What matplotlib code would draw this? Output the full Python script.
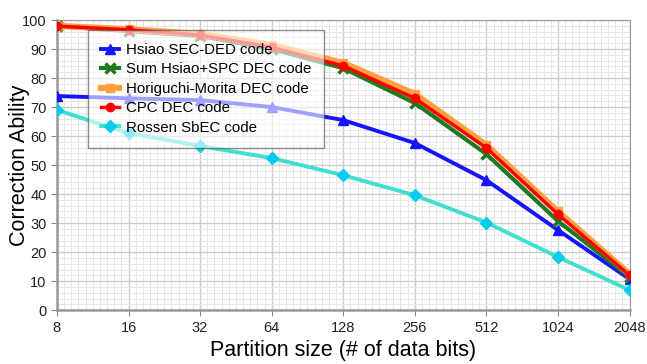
import matplotlib
matplotlib.use("Agg")
import matplotlib.pyplot as plt
from matplotlib.ticker import MultipleLocator
import numpy as np

plt.rcParams['font.family'] = ['Liberation Sans', 'DejaVu Sans']

sizes = ["8", "16", "32", "64", "128", "256", "512", "1024", "2048"]
hsiao = [73.8, 73.0, 72.4, 70.0, 65.5, 57.6, 44.8, 27.6, 10.7]
sum_spc = [97.9, 96.2, 94.5, 90.0, 83.4, 71.4, 53.8, 30.7, 11.5]
horiguchi = [98.0, 96.8, 95.2, 91.4, 85.2, 74.5, 56.9, 34.0, 12.4]
cpc = [97.9, 96.6, 94.8, 90.6, 84.2, 73.0, 55.9, 33.0, 12.0]
rossen = [69.0, 61.0, 56.6, 52.4, 46.5, 39.6, 30.2, 18.3, 6.9]

x = np.arange(len(sizes))

fig = plt.figure(figsize=(6.47, 3.64), dpi=100)
ax = fig.add_axes([0.088, 0.148, 0.885, 0.797])

ax.plot(x, hsiao, color="#1414ff", lw=2.8, marker="^", ms=7,
        label="Hsiao SEC-DED code", zorder=3)
ax.plot(x, sum_spc, color="#1e7a1e", lw=3, marker="x", ms=7, mew=2.5,
        label="Sum Hsiao+SPC DEC code", zorder=4)
ax.plot(x, horiguchi, color="#ffa040", lw=4.5, marker="s", ms=6,
        label="Horiguchi-Morita DEC code", zorder=5)
ax.plot(x, cpc, color="#ff0000", lw=2.5, marker="o", ms=6,
        label="CPC DEC code", zorder=6)
ax.plot(x, rossen, color="#40e0d0", lw=2.8, marker="D", ms=6, mfc="#00ccee", mec="#00ccee",
        label="Rossen SbEC code", zorder=3)

ax.set_xlim(0, len(sizes) - 1)
ax.set_ylim(0, 100)
ax.set_xticks(x)
ax.set_xticklabels(sizes)
ax.xaxis.set_minor_locator(MultipleLocator(0.1))
ax.yaxis.set_major_locator(MultipleLocator(10))
ax.yaxis.set_minor_locator(MultipleLocator(2))
ax.grid(which="major", color="#cccccc", lw=1.0)
ax.grid(which="minor", color="#e6e6e6", lw=0.7)
ax.set_axisbelow(True)
ax.tick_params(which="major", labelsize=10.5, length=4, color="#888888", labelcolor="#222222")
ax.tick_params(which="minor", length=0)
for s in ax.spines.values():
    s.set_color("#999999")
ax.spines["left"].set_linewidth(1.8)
ax.spines["bottom"].set_linewidth(1.8)

ax.set_xlabel("Partition size (# of data bits)", fontsize=15.5)
fig.text(0.03, 0.5465, "Correction Ability", fontsize=15.5, rotation=90,
         ha="center", va="center")

leg = ax.legend(loc="upper left", bbox_to_anchor=(0.054, 0.966), fontsize=10.8,
                frameon=True, fancybox=False, framealpha=0.6, edgecolor="#444444",
                handlelength=1.2, borderpad=0.88, labelspacing=0.36, handletextpad=0.45,
                borderaxespad=0)
leg.get_frame().set_linewidth(1.0)
leg.set_zorder(10)

fig.savefig("out.png", dpi=100)
